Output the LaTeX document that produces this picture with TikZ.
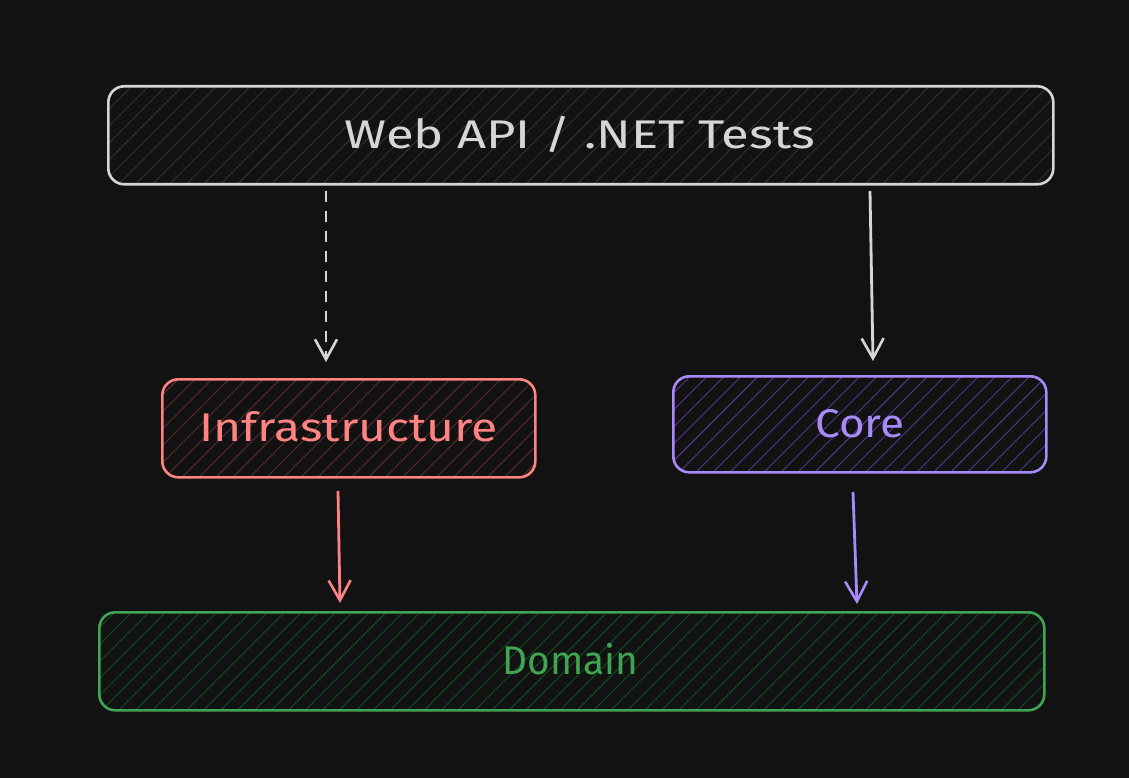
\documentclass[tikz,border=0pt]{standalone}
\usepackage{fontspec}
\setmainfont{Fira Sans}
\usetikzlibrary{arrows.meta,patterns.meta}
\definecolor{bg}{HTML}{121212}
\definecolor{webc}{HTML}{D6D6D6}
\definecolor{webh}{HTML}{3A302A}
\definecolor{infc}{HTML}{FF8383}
\definecolor{infh}{HTML}{5C2C2C}
\definecolor{corc}{HTML}{A78BFA}
\definecolor{corh}{HTML}{4C3C8C}
\definecolor{domc}{HTML}{3FA553}
\definecolor{domh}{HTML}{11501E}
\tikzset{
  box/.style={draw=#1, line width=2.6pt, rounded corners=16pt},
  hatch/.style={pattern={Lines[angle=45,distance=12pt,line width=0.9pt]}, pattern color=#1},
  lbl/.style={text=#1, font=\fontsize{40}{46}\selectfont},
  arr/.style={draw=#1, line width=2.8pt, -{Straight Barb[length=20pt,width=22pt,line width=2.6pt]}},
}
\begin{document}
\begin{tikzpicture}[x=1pt,y=-1pt]
\fill[bg] (0,0) rectangle (1129,778);
\useasboundingbox (0,0) rectangle (1129,778);

% Web API
\path[hatch=webh, rounded corners=16pt] (107,85) rectangle (1052,183);
\node[box=webc, minimum width=945pt, minimum height=98pt, anchor=north west] (web) at (107,85) {};
\node[lbl=webc] (webt) at ([xshift=-1pt,yshift=1pt]web.center) {\scalebox{1.27}[1]{Web API / .NET Tests}};

% Infrastructure
\path[hatch=infh, rounded corners=16pt] (161,378) rectangle (534,476);
\node[box=infc, minimum width=373pt, minimum height=98pt, anchor=north west] (inf) at (161,378) {};
\node[lbl=infc] (inft) at ([xshift=0pt,yshift=2pt]inf.center) {\scalebox{1.2}[1]{Infrastructure}};

% Core
\path[hatch=corh, rounded corners=16pt] (672,375) rectangle (1045,471);
\node[box=corc, minimum width=373pt, minimum height=96pt, anchor=north west] (core) at (672,375) {};
\node[lbl=corc] (coret) at ([xshift=0pt,yshift=1pt]core.center) {\scalebox{1.1}[1]{Core}};

% Domain
\path[hatch=domh, rounded corners=16pt] (98,611) rectangle (1043,709);
\node[box=domc, minimum width=945pt, minimum height=98pt, anchor=north west] (dom) at (98,611) {};
\node[lbl=domc] (domt) at ([xshift=-1pt,yshift=2pt]dom.center) {\scalebox{0.97}[1]{Domain}};

% connector endpoints
\coordinate (a1s) at (326,191);
\coordinate (a1e) at (326,362);
\coordinate (a2s) at (870,191);
\coordinate (a2e) at (873,361);
\coordinate (a3s) at (338,491);
\coordinate (a3e) at (340,603);
\coordinate (a4s) at (853,492);
\coordinate (a4e) at (857,604);

\draw[arr=webc, dash pattern=on 11pt off 9pt] (a1s) -- (a1e);
\draw[arr=webc] (a2s) -- (a2e);
\draw[arr=infc] (a3s) -- (a3e);
\draw[arr=corc] (a4s) -- (a4e);
\end{tikzpicture}
\end{document}
